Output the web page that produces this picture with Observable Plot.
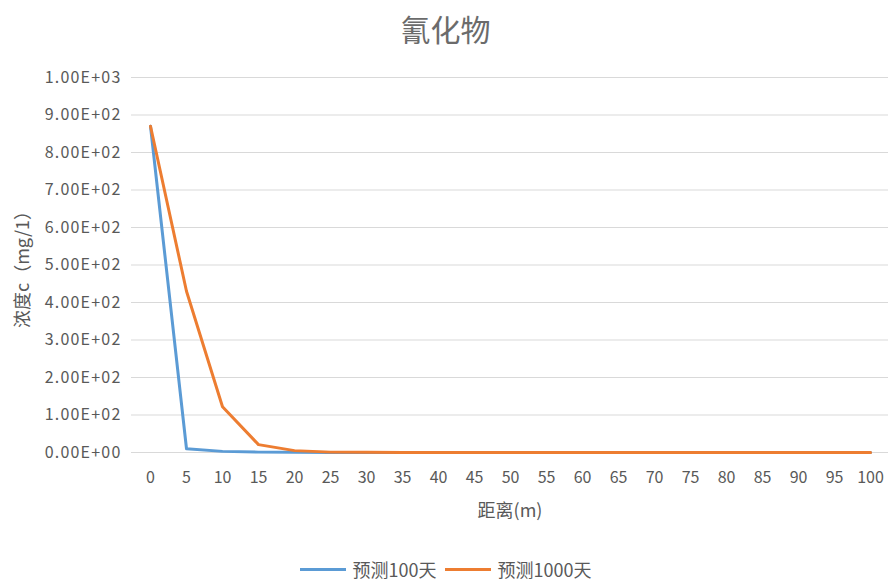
<!DOCTYPE html>
<html>
<head>
<meta charset="utf-8">
<script src="https://cdn.jsdelivr.net/npm/d3@7"></script>
<script src="https://cdn.jsdelivr.net/npm/@observablehq/plot@0.6"></script>
<style>
  html, body { margin: 0; padding: 0; background: #fff; }
  body { width: 891px; height: 584px; overflow: hidden; font-family: "Noto Sans CJK SC", sans-serif; }
  #title { height: 50px; line-height: 56px; text-align: center; font-size: 30px; color: #6b6b6b; }
  #legend { display: flex; justify-content: center; align-items: center; font-size: 18px; color: #595959; margin-top: 28px; line-height: 22px; }
  .item { display: flex; align-items: center; margin: 0 4px; }
  .sw { width: 46px; height: 3px; margin-right: 7px; }
  g[aria-label="y-axis tick label"] text { letter-spacing: 1.2px; }
</style>
</head>
<body>
<div id="title">氰化物</div>
<div id="chart"></div>
<div id="legend"></div>
<script>
const distances = [0, 5, 10, 15, 20, 25, 30, 35, 40, 45, 50, 55, 60, 65, 70, 75, 80, 85, 90, 95, 100];
const pred100 = [870, 10, 3, 1, 0.5, 0, 0, 0, 0, 0, 0, 0, 0, 0, 0, 0, 0, 0, 0, 0, 0];
const pred1000 = [870, 430, 122, 21, 5, 1, 0.5, 0, 0, 0, 0, 0, 0, 0, 0, 0, 0, 0, 0, 0, 0];
const seriesNames = ["预测100天", "预测1000天"];
const seriesColors = ["#5B9BD5", "#ED7D31"];
const yTicks = [0, 100, 200, 300, 400, 500, 600, 700, 800, 900, 1000];

const rows = [];
[pred100, pred1000].forEach((vals, s) => {
  vals.forEach((v, i) => rows.push({x: distances[i], y: v, s: seriesNames[s]}));
});

function sci(d) {
  if (d === 0) return "0.00E+00";
  const e = Math.floor(Math.log10(Math.abs(d)));
  const m = d / Math.pow(10, e);
  return m.toFixed(2) + "E" + (e >= 0 ? "+" : "-") + String(Math.abs(e)).padStart(2, "0");
}

const chart = Plot.plot({
  width: 891,
  height: 480,
  marginLeft: 131,
  marginRight: 3,
  marginTop: 27,
  marginBottom: 78,
  style: {fontFamily: "'Noto Sans CJK SC', sans-serif", fontSize: "18px", color: "#595959", background: "#fff"},
  x: {type: "point", domain: distances, padding: 0.5},
  y: {domain: [0, 1000]},
  color: {domain: seriesNames, range: seriesColors},
  marks: [
    Plot.gridY(yTicks, {stroke: "#d9d9d9", strokeOpacity: 1}),
    Plot.axisY(yTicks, {tickSize: 0, tickPadding: 10, tickFormat: sci, fontSize: 16, label: null}),
    Plot.axisY({tickSize: 0, ticks: [], label: "浓度c（mg/1）", labelAnchor: "center", labelArrow: "none", labelOffset: 115, fontSize: 18}),
    Plot.axisX({tickSize: 0, tickPadding: 19, fontSize: 16, label: null}),
    Plot.axisX({tickSize: 0, ticks: [], label: "距离(m)", labelAnchor: "center", labelArrow: "none", labelOffset: 64, fontSize: 18}),
    Plot.line(rows, {x: "x", y: "y", z: "s", stroke: "s", strokeWidth: 3, strokeLinejoin: "round"})
  ]
});
document.getElementById("chart").appendChild(chart);

const legend = document.getElementById("legend");
seriesNames.forEach((n, i) => {
  const it = document.createElement("div");
  it.className = "item";
  it.innerHTML = `<span class="sw" style="background:${seriesColors[i]}"></span><span>${n}</span>`;
  legend.appendChild(it);
});
</script>
</body>
</html>
